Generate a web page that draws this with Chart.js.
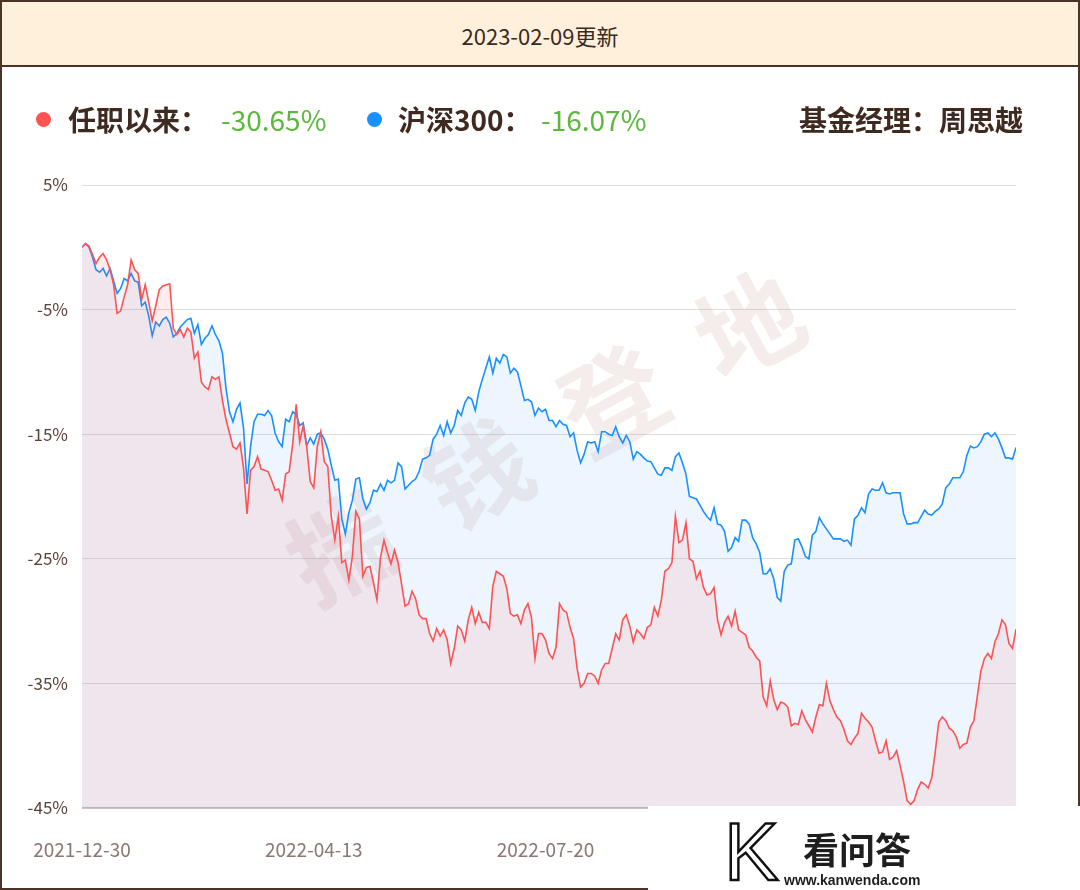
<!DOCTYPE html>
<html>
<head>
<meta charset="utf-8">
<script src="https://cdn.jsdelivr.net/npm/chart.js@4/dist/chart.umd.min.js"></script>
<style>
  html, body { margin: 0; padding: 0; background: #fff; }
  body { width: 1080px; height: 890px; position: relative; overflow: hidden;
         font-family: "Noto Sans CJK SC", "Noto Sans", sans-serif; }
  .frame { position: absolute; left: 0; top: 0; width: 1076px; height: 886px;
           border: 2px solid #4b3427; }
  .head { position: absolute; left: 2px; top: 2px; width: 1076px; height: 63px;
          background: #fff0dc; border-bottom: 2px solid #4b3427;
          text-align: center; line-height: 66px; font-size: 22px; color: #3b2a22; }
  .legend { position: absolute; top: 99px; height: 40px; line-height: 40px;
            font-size: 28px; white-space: nowrap; }
  .lbl { font-weight: bold; color: #3e2a20; }
  .val { color: #5cb83c; }
  .dot { position: absolute; top: 112px; width: 15px; height: 15px; border-radius: 50%; }
  #wrap { position: absolute; left: 0; top: 150px; width: 1080px; height: 740px; }
  .logo { position: absolute; left: 648px; top: 806px; width: 432px; height: 84px; background: #fff; }
  .logo .k { position: absolute; left: 76px; top: 2px; font: 82px "Liberation Sans", sans-serif;
             line-height: 88px; color: #fff; -webkit-text-stroke: 2.5px #111; }
  .logo .cn { position: absolute; left: 155px; top: 19px; font-weight: bold; font-size: 36px;
              line-height: 46px; color: #1e1e1e; }
  .logo .url { position: absolute; left: 136px; top: 65px; font: bold 14px "Liberation Sans", sans-serif;
               line-height: 18px; color: #1e1e1e; }
</style>
</head>
<body>
<div id="wrap"><canvas id="chart"></canvas></div>
<div class="frame"></div>
<div class="head">2023-02-09更新</div>

<div class="dot" style="left:36px;background:#ff5252;"></div>
<div class="legend" style="left:68px;"><span class="lbl">任职以来：</span></div>
<div class="legend" style="left:221px;"><span class="val">-30.65%</span></div>
<div class="dot" style="left:367px;background:#1890ff;"></div>
<div class="legend" style="left:398px;"><span class="lbl">沪深300：</span></div>
<div class="legend" style="left:541px;"><span class="val">-16.07%</span></div>
<div class="legend" style="right:57px;"><span class="lbl">基金经理：周思越</span></div>

<div class="logo">
  <div class="k">K</div>
  <div class="cn">看问答</div>
  <div class="url">www.kanwenda.com</div>
</div>

<script>
// --- data (cumulative return %, one value per trading day, 2021-12-30 .. 2023-02-09) ---
const seriesNames = ['任职以来', '沪深300'];

const managerReturn = [
  0, 0.3, 0.1, -0.6, -1.3, -0.8, -0.5, -1.0, -1.8, -3.0,
  -5.3, -5.1, -4.0, -3.0, -1.0, -1.8, -2.1, -4.2, -3.0, -4.4,
  -5.9, -4.7, -3.4, -3.1, -3.0, -2.95, -6.5, -7.0, -6.6, -7.2,
  -6.5, -6.8, -8.9, -8.4, -10.8, -11.2, -11.4, -10.4, -10.6, -10.4,
  -12.3, -13.8, -14.9, -16.0, -16.2, -15.7, -17.7, -21.4, -17.9, -17.6,
  -16.8, -17.8, -17.9, -18.0, -18.7, -19.5, -19.4, -20.3, -18.2, -18.0,
  -15.8, -12.6, -15.6, -14.3, -16.0, -18.8, -19.3, -16.0, -14.8, -17.2,
  -17.6, -21.6, -23.5, -21.6, -25.3, -25.1, -26.7, -24.8, -21.2, -21.8,
  -26.4, -25.7, -25.6, -26.9, -28.3, -24.9, -23.5, -24.5, -25.4, -24.3,
  -25.3, -27.0, -28.8, -28.6, -27.6, -28.2, -29.5, -29.8, -29.8, -31.0,
  -31.6, -30.6, -31.2, -30.7, -31.5, -33.4, -32.2, -30.4, -30.7, -31.6,
  -29.9, -28.9, -30.2, -29.3, -30.1, -30.1, -30.6, -27.2, -26.0, -26.2,
  -26.4, -27.4, -29.4, -29.6, -29.5, -30.2, -29.1, -28.6, -29.7, -33.0,
  -31.0, -31.0, -31.5, -32.6, -33.0, -32.1, -28.6, -29.1, -29.3, -30.5,
  -31.4, -33.8, -35.3, -35.0, -34.2, -34.2, -34.4, -35.0, -33.9, -33.4,
  -33.4, -32.2, -31.0, -31.5, -29.9, -29.5, -30.4, -31.7, -30.7, -31.0,
  -31.4, -30.5, -30.3, -28.9, -29.6, -28.3, -26.0, -25.8, -25.3, -21.6,
  -23.7, -23.5, -22.1, -25.0, -25.2, -26.6, -26.0, -27.3, -27.9, -27.8,
  -27.3, -29.9, -31.1, -30.1, -29.6, -30.4, -29.2, -30.7, -30.9, -31.1,
  -32.1, -32.4, -32.9, -33.2, -36.1, -36.8, -34.8, -36.3, -37.1, -36.5,
  -36.6, -36.9, -38.4, -38.2, -38.3, -37.2, -37.9, -38.4, -38.9, -37.7,
  -36.7, -36.8, -35.0, -36.4, -37.1, -37.7, -38.0, -38.7, -39.6, -39.9,
  -39.4, -39.0, -37.4, -37.8, -38.1, -38.5, -39.6, -40.6, -40.5, -39.6,
  -41.1, -40.9, -40.4, -41.6, -42.9, -44.4, -44.7, -44.4, -43.5, -42.9,
  -43.1, -43.4, -42.6, -40.5, -38.1, -37.7, -38.0, -38.6, -38.8, -39.3,
  -40.2, -39.9, -39.8, -38.5, -38.0, -36.0, -34.0, -33.0, -32.6, -33.0,
  -31.65, -31.0, -29.9, -30.3, -31.8, -32.2, -30.65
];

const csi300Return = [
  0, 0.3, 0.0, -0.8, -1.8, -2.0, -1.7, -2.3, -1.7, -2.7,
  -3.7, -3.3, -2.5, -2.7, -2.1, -2.7, -2.8, -4.7, -4.4, -5.5,
  -7.1, -6.0, -6.3, -5.8, -5.6, -6.1, -7.2, -6.9, -6.4, -6.1,
  -5.8, -5.7, -6.9, -6.2, -7.8, -7.3, -7.0, -6.3, -7.0, -7.5,
  -8.5, -11.3, -13.2, -14.0, -13.0, -12.5, -14.5, -19.0, -16.0, -14.0,
  -13.4, -13.4, -13.5, -13.1, -13.5, -14.9, -15.6, -16.0, -13.8, -14.0,
  -13.2, -13.4, -14.3, -14.1, -15.9, -15.3, -15.8, -15.0, -14.9, -15.4,
  -16.2, -17.5, -18.7, -18.6, -21.8, -23.0, -21.3, -20.3, -18.6, -18.5,
  -20.2, -21.0, -20.5, -19.5, -19.6, -19.0, -19.5, -18.7, -18.9, -18.7,
  -17.3, -17.6, -19.4, -19.1, -18.8, -18.6, -18.0, -17.0, -16.9, -16.7,
  -15.4, -15.0, -14.3, -15.1, -14.0, -14.9, -14.3, -13.1, -13.5, -12.5,
  -12.0, -12.2, -13.1, -11.6, -10.6, -9.7, -8.8, -10.1, -8.9, -9.3,
  -8.6, -8.8, -10.1, -9.7, -10.0, -11.1, -12.3, -12.2, -12.4, -13.5,
  -12.9, -13.2, -13.0, -13.9, -13.9, -14.4, -13.9, -14.2, -14.3, -15.2,
  -14.9, -16.3, -17.3, -16.6, -15.6, -15.7, -15.6, -16.4, -14.8, -14.8,
  -15.0, -15.1, -14.4, -15.2, -15.7, -15.1, -15.6, -17.0, -16.4, -16.6,
  -16.9, -17.15, -17.2, -17.7, -18.2, -18.3, -17.7, -17.7, -17.9, -16.8,
  -16.5, -17.3, -18.2, -20.0, -20.1, -20.2, -20.7, -21.2, -21.6, -21.9,
  -20.9, -22.2, -22.3, -22.8, -24.4, -24.1, -23.3, -23.6, -21.9, -21.9,
  -22.2, -23.3, -23.8, -24.5, -26.2, -26.2, -25.8, -26.6, -28.1, -28.4,
  -26.0, -25.5, -25.4, -23.5, -23.4, -24.0, -24.8, -25.0, -23.1, -22.8,
  -21.7, -22.2, -22.6, -23.0, -23.4, -23.4, -23.4, -23.6, -23.5, -23.9,
  -21.8, -21.5, -20.9, -21.3, -19.8, -19.4, -19.5, -19.5, -18.9, -19.7,
  -19.8, -19.7, -19.7, -19.7, -21.4, -22.2, -22.2, -22.1, -22.1, -21.6,
  -21.1, -21.4, -21.5, -21.2, -21.0, -20.6, -19.3, -19.0, -18.5, -18.5,
  -18.5, -18.0, -16.7, -15.95, -16.1, -16.0, -15.6, -15.0, -14.9, -15.2,
  -14.9, -15.4, -16.1, -16.9, -16.9, -17.0, -16.07
];

// x tick positions (trading-day index) and their date labels
const tickIndex = [0, 66, 132, 198, 264];
const tickLabels = ['2021-12-30', '2022-04-13', '2022-07-20', '2022-10-28', '2023-02-07'];

const yTicks = [5, -5, -15, -25, -35, -45];

// faint diagonal watermark behind the lines
const watermark = {
  id: 'watermark',
  beforeDatasetsDraw(chart) {
    const ctx = chart.ctx;
    ctx.save();
    ctx.translate(545, 287);
    ctx.rotate(-0.50);
    ctx.fillStyle = 'rgba(175,115,105,0.13)';
    ctx.font = 'bold 104px "Noto Sans CJK SC"';
    ctx.textAlign = 'center';
    ctx.textBaseline = 'middle';
    const chars = ['揣', '钱', '登', '地'];
    chars.forEach((c, k) => ctx.fillText(c, (k - 1.5) * 155, 0));
    ctx.restore();
  }
};

const toXY = arr => arr.map((v, i) => ({ x: i, y: v }));

new Chart(document.getElementById('chart'), {
  type: 'line',
  data: {
    datasets: [
      {
        label: seriesNames[0],
        data: toXY(managerReturn),
        borderColor: '#ff5252',
        backgroundColor: 'rgba(255,77,79,0.10)',
        borderWidth: 1.6,
        pointRadius: 0,
        fill: 'start',
        tension: 0,
      },
      {
        label: seriesNames[1],
        data: toXY(csi300Return),
        borderColor: '#1890ff',
        backgroundColor: 'rgba(24,144,255,0.08)',
        borderWidth: 1.6,
        pointRadius: 0,
        fill: 'start',
        tension: 0,
      },
    ],
  },
  options: {
    responsive: true,
    maintainAspectRatio: false,
    animation: false,
    layout: { padding: { left: 0, right: 64, top: 35, bottom: 0 } },
    plugins: {
      legend: { display: false },
      tooltip: { enabled: false },
    },
    scales: {
      x: {
        type: 'linear',
        min: 0,
        max: managerReturn.length - 1,
        grid: { display: false, drawTicks: false },
        border: { display: false },
        afterFit: s => { s.height = 82; s.paddingRight = 0; },
        afterBuildTicks: s => { s.ticks = tickIndex.map(v => ({ value: v })); },
        ticks: {
          autoSkip: false,
          maxRotation: 0,
          padding: 30,
          color: '#8a7872',
          font: { size: 19, family: '"Noto Sans CJK SC", sans-serif' },
          callback: v => tickLabels[tickIndex.indexOf(v)],
        },
      },
      y: {
        min: -45,
        max: 5,
        grid: {
          drawTicks: false,
          color: c => (c.tick && c.tick.value === -45 ? '#c4c4c4' : '#dedede'),
          lineWidth: c => (c.tick && c.tick.value === -45 ? 2 : 1),
        },
        border: { display: false },
        afterFit: s => { s.width = 82; },
        afterBuildTicks: s => { s.ticks = yTicks.map(v => ({ value: v })); },
        ticks: {
          padding: 14,
          color: '#5a4238',
          font: { size: 17, family: '"Noto Sans CJK SC", sans-serif' },
          callback: v => v + '%',
        },
      },
    },
  },
  plugins: [watermark],
});
</script>
</body>
</html>
